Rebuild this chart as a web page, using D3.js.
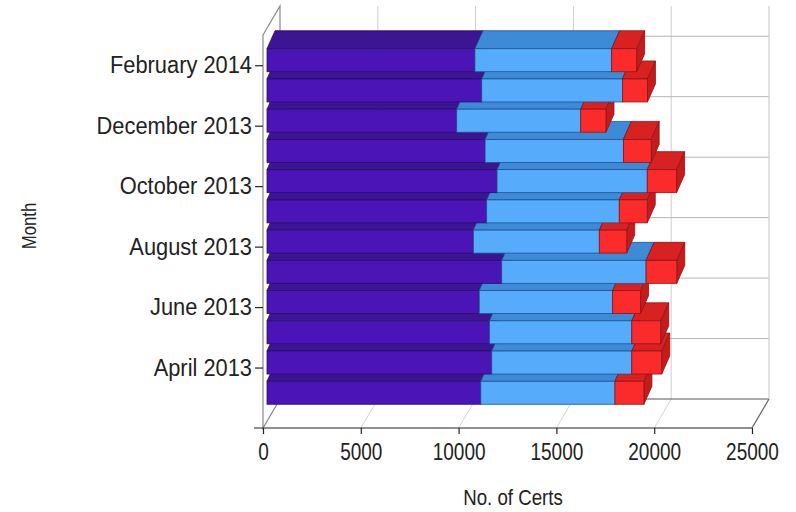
<!DOCTYPE html>
<html><head><meta charset="utf-8">
<script src="https://cdn.jsdelivr.net/npm/d3@7"></script>
<style>body{margin:0;background:#fff}svg{display:block}</style>
</head><body>
<svg id="c" width="796" height="512"></svg>
<script>
const months = ["March 2013","April 2013","May 2013","June 2013","July 2013","August 2013","September 2013","October 2013","November 2013","December 2013","January 2014","February 2014"];
const series1 = [10930,11490,11370,10850,12000,10550,11230,11760,11150,9700,10980,10630];
const series2 = [6860,7160,7280,6820,7380,6440,6780,7680,7070,6340,7190,6990];
const series3 = [1480,1530,1480,1430,1570,1400,1430,1500,1420,1290,1280,1280];
const xTicks = [0,5000,10000,15000,20000,25000];
const yTickLabels = ["April 2013","June 2013","August 2013","October 2013","December 2013","February 2014"];
const xTitle = "No. of Certs";
const yTitle = "Month";

const styles = [
  {front:"#4a14b6", top:"#3c1592", side:"#34117e", stroke:"#2a0d6a"},
  {front:"#56abfa", top:"#3d8bd6", side:"#2f77c0", stroke:"#1f5394"},
  {front:"#fb2b2b", top:"#d82222", side:"#c41c1c", stroke:"#8c1616"}
];

const svg = d3.select("#c");
const x = d3.scaleLinear().domain([0,25000]).range([263,752]);
const y = d3.scalePoint().domain(months).range([428,35]).padding(1);
const DX = 17, DY = -29;           // wall depth
const FX = 4, FY = -5;             // bar front-face shift
const BX = 8, BY = -18;            // bar depth
const H = 23;                      // bar front height
const TOP = 35, BOTTOM = 428;

const walls = svg.append("g");
walls.append("rect").attr("x", x(0)+DX).attr("y", TOP+DY).attr("width", x(25000)-x(0)).attr("height", BOTTOM-TOP).attr("fill","#fff");
walls.selectAll("line.bv").data(xTicks.slice(1)).join("line")
  .attr("x1", d=>x(d)+DX).attr("x2", d=>x(d)+DX)
  .attr("y1", TOP+DY).attr("y2", BOTTOM+DY)
  .attr("stroke","#cfcfcf").attr("stroke-width",1);
walls.selectAll("line.bh").data(yTickLabels).join("line")
  .attr("x1", x(0)+DX).attr("x2", x(25000)+DX)
  .attr("y1", d=>y(d)+DY).attr("y2", d=>y(d)+DY)
  .attr("stroke","#b5b5b5").attr("stroke-width",1);
walls.append("polygon")
  .attr("points", [[x(0),TOP],[x(0)+DX,TOP+DY],[x(0)+DX,BOTTOM+DY],[x(0),BOTTOM]].map(p=>p.join(",")).join(" "))
  .attr("fill","#fff").attr("stroke","#8a8a8a").attr("stroke-width",1.2);
walls.selectAll("line.fd").data(xTicks.slice(1,-1)).join("line")
  .attr("x1", d=>x(d)).attr("y1", BOTTOM).attr("x2", d=>x(d)+DX).attr("y2", BOTTOM+DY)
  .attr("stroke","#d5d5d5").attr("stroke-width",1);
walls.append("line").attr("x1", x(0)+DX).attr("x2", x(25000)+DX).attr("y1", BOTTOM+DY).attr("y2", BOTTOM+DY).attr("stroke","#555").attr("stroke-width",1.2);
walls.append("line").attr("x1", x(25000)).attr("y1", BOTTOM).attr("x2", x(25000)+DX).attr("y2", BOTTOM+DY).attr("stroke","#666").attr("stroke-width",1.2);
walls.append("line").attr("x1", x(25000)+DX).attr("x2", x(25000)+DX).attr("y1", TOP+DY).attr("y2", BOTTOM+DY).attr("stroke","#ddd").attr("stroke-width",1);

const rows = months.map((m,i)=>{
  const vals=[series1[i],series2[i],series3[i]];
  let acc=0;
  return {m, segs: vals.map((v,k)=>{const s={k,v0:acc,v1:acc+v}; acc+=v; return s;})};
});
const bars = svg.append("g");
const pts = a => a.map(p=>p.join(",")).join(" ");
rows.forEach(r=>{
  const yt = y(r.m) + FY - H/2, yb = yt + H;
  const g = bars.append("g");
  r.segs.forEach(s=>{
    const st = styles[s.k];
    const xl = x(s.v0)+FX, xr = x(s.v1)+FX;
    g.append("polygon").attr("points", pts([[xl,yt],[xr,yt],[xr+BX,yt+BY],[xl+BX,yt+BY]]))
      .attr("fill", st.top).attr("stroke", st.stroke).attr("stroke-width",0.8);
    g.append("polygon").attr("points", pts([[xr,yt],[xr+BX,yt+BY],[xr+BX,yb+BY],[xr,yb]]))
      .attr("fill", st.side).attr("stroke", st.stroke).attr("stroke-width",0.8);
    g.append("rect").attr("x", xl).attr("y", yt).attr("width", xr-xl).attr("height", H)
      .attr("fill", st.front).attr("stroke", st.stroke).attr("stroke-width",0.8);
  });
});

const font = "'Liberation Sans', Arial, sans-serif";
const yAxis = svg.append("g").attr("transform",`translate(${x(0)},0)`)
  .call(d3.axisLeft(y).tickValues(yTickLabels).tickSize(8).tickPadding(3));
yAxis.select(".domain").remove();
yAxis.selectAll(".tick line").attr("stroke","#222").attr("stroke-width",1.2);
yAxis.selectAll(".tick text").attr("font-family",font).attr("font-size",19).attr("fill","#222")
  .attr("dy",null).attr("x",-11/1.15).attr("dominant-baseline","central").attr("transform","scale(1.15,1.22)");

svg.append("line").attr("x1",254).attr("x2",x(25000)).attr("y1",BOTTOM).attr("y2",BOTTOM).attr("stroke","#222").attr("stroke-width",1.2);
const xAxis = svg.append("g").attr("transform",`translate(0,${BOTTOM})`)
  .call(d3.axisBottom(x).tickValues(xTicks).tickFormat(d3.format("d")).tickSize(6).tickPadding(4));
xAxis.select(".domain").remove();
xAxis.selectAll(".tick line").attr("stroke","#222").attr("stroke-width",1.2);
xAxis.selectAll(".tick text").attr("font-family",font).attr("font-size",19).attr("fill","#222")
  .attr("dy",null).attr("y",null).attr("dominant-baseline","central")
  .attr("transform","translate(0,24) scale(1,1.3)");

svg.append("text").attr("transform","translate(513,497) scale(1.1,1.3)")
  .attr("text-anchor","middle").attr("dominant-baseline","central")
  .attr("font-family",font).attr("font-size",17).attr("fill","#222").text(xTitle);
svg.append("text").attr("transform","translate(29,226) rotate(-90) scale(1.05,1.3)")
  .attr("text-anchor","middle").attr("dominant-baseline","central")
  .attr("font-family",font).attr("font-size",16).attr("fill","#222").text(yTitle);
</script>
</body></html>
